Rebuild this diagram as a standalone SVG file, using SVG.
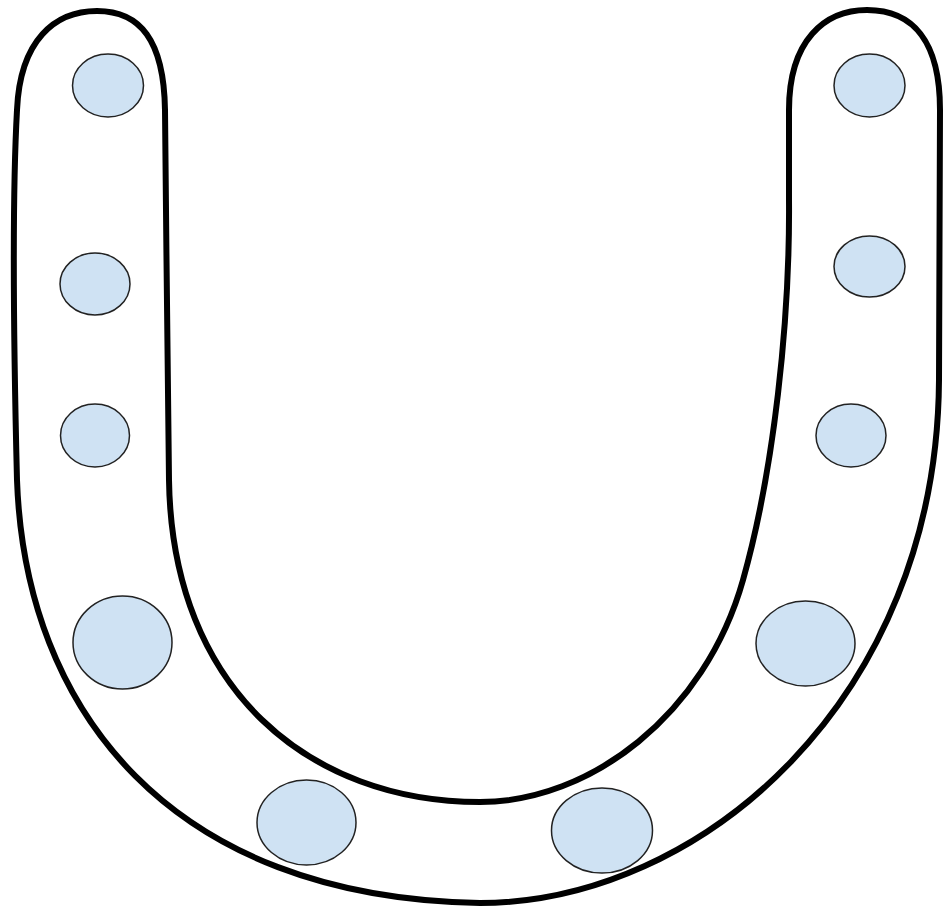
<svg xmlns="http://www.w3.org/2000/svg" width="943" height="911" viewBox="0 0 943 911">
<style>
.shoe{fill:#ffffff;stroke:#000000;stroke-width:6;stroke-linejoin:round}
.hole{fill:#cfe2f3;stroke:#222222;stroke-width:1.5}
</style>
<rect width="943" height="911" fill="#ffffff"/>
<g id="horseshoe">
<path class="shoe" d="M 165,110 C 166,230 168,380 169,480 C 172,690 310,802 480,802 C 590,802 705,715 743,580 C 774,470 790,320 789,200 L 789,110 C 789,40 825,10 867,10 C 912,10 940,40 940,110 L 939,380 C 937,700 700,903 480,903 C 170,898 25,710 17,480 C 14,360 12,200 17,110 C 20,40 55,11 97,11 C 140,11 164,40 165,110 Z"/>
</g>
<g id="holes">
<ellipse id="h1" class="hole" cx="108" cy="85.5" rx="35.5" ry="31.5"/>
<ellipse id="h2" class="hole" cx="95" cy="284" rx="35" ry="31"/>
<ellipse id="h3" class="hole" cx="95" cy="435.5" rx="34.5" ry="31.5"/>
<ellipse id="h4" class="hole" cx="122.5" cy="642.5" rx="49.5" ry="46.5"/>
<ellipse id="h5" class="hole" cx="306.5" cy="822.5" rx="49.5" ry="42.5"/>
<ellipse id="h6" class="hole" cx="602" cy="830.5" rx="50.5" ry="42.5"/>
<ellipse id="h7" class="hole" cx="805.5" cy="643.5" rx="49.5" ry="42.5"/>
<ellipse id="h8" class="hole" cx="869.5" cy="85.5" rx="35.5" ry="31.5"/>
<ellipse id="h9" class="hole" cx="869.5" cy="266.5" rx="35.5" ry="30.5"/>
<ellipse id="h10" class="hole" cx="851" cy="435.5" rx="35" ry="31.5"/>
</g>
</svg>
